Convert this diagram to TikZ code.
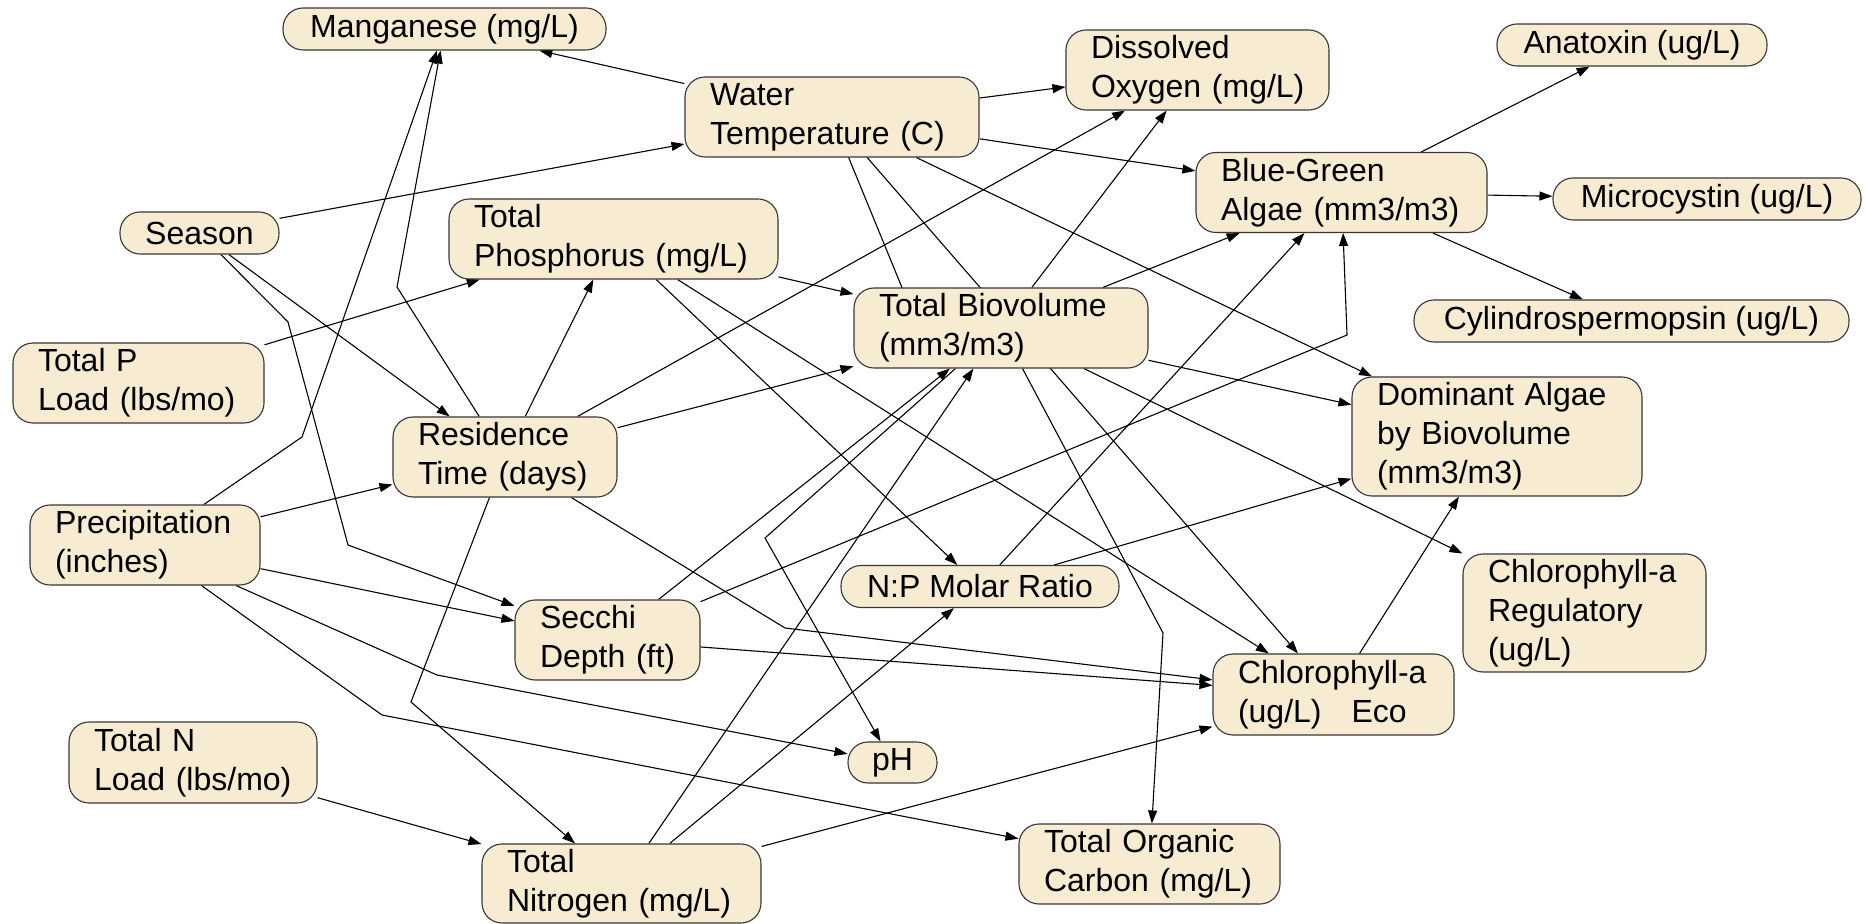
\documentclass[tikz,border=0pt]{standalone}
\usepackage{fontspec}
\setmainfont{Liberation Sans}
\usetikzlibrary{arrows.meta,backgrounds}
\definecolor{nodefill}{RGB}{247,236,210}
\definecolor{nodeline}{RGB}{55,55,55}
\begin{document}
\begin{tikzpicture}[x=0.5pt,y=-0.5pt,
  nd/.style={draw=nodeline, line width=0.55pt, fill=nodefill, rounded corners=10pt,
    font=\fontsize{16}{19.5}\selectfont, inner sep=0pt},
  ml/.style n args={3}{nd, text width=#1, minimum width=#2, minimum height=#3, align=left},
  sl/.style n args={2}{nd, minimum width=#1, minimum height=#2, align=center},
  link/.style={line width=0.55pt, -{Triangle[length=6.5pt,width=4.5pt]}},
  plainlink/.style={line width=0.55pt}
]
\useasboundingbox (0,0) rectangle (1866,924);
% nodes
\node[sl={161.5pt}{21pt}] (mn) at (444.5,29) {Manganese (mg/L)};
\node[ml={122pt}{147pt}{40pt}] (wt) at (832,117) {Water\\Temperature~(C)};
\node[ml={106.5pt}{131.5pt}{40pt}] (do) at (1197.5,70) {Dissolved\\Oxygen~(mg/L)};
\node[sl={135pt}{21pt}] (an) at (1632,45) {Anatoxin (ug/L)};
\node[ml={120.5pt}{145.5pt}{40pt}] (bg) at (1341.5,192.5) {Blue-Green\\Algae~(mm3/m3)};
\node[sl={154pt}{21pt}] (mc) at (1707,199) {Microcystin (ug/L)};
\node[sl={217.5pt}{21pt}] (cy) at (1631.5,321) {Cylindrospermopsin (ug/L)};
\node[sl={79.5pt}{21pt}] (se) at (199.5,233) {Season};
\node[ml={139.5pt}{164.5pt}{40pt}] (tp) at (613.5,239) {Total\\Phosphorus~(mg/L)};
\node[ml={122pt}{147pt}{40pt}] (tb) at (1001,328) {Total~Biovolume\\(mm3/m3)};
\node[ml={100.5pt}{125.5pt}{40pt}] (tpl) at (138.5,383) {Total~P\\Load~(lbs/mo)};
\node[ml={87pt}{112pt}{40pt}] (rt) at (505,457) {Residence\\Time~(days)};
\node[ml={120pt}{145pt}{59.5pt}] (da) at (1497,436.5) {Dominant~Algae\\by~Biovolume\\(mm3/m3)};
\node[ml={90pt}{115pt}{40pt}] (pr) at (145,545) {Precipitation\\(inches)};
\node[sl={139pt}{21pt}] (np) at (980,586.5) {N:P Molar Ratio};
\node[ml={67.5pt}{92.5pt}{40pt}] (sd) at (607.5,640) {Secchi\\Depth~(ft)};
\node[ml={96.5pt}{121.5pt}{59pt}] (cr) at (1584.5,613) {Chlorophyll-a\\Regulatory\\(ug/L)};
\node[ml={95.5pt}{120.5pt}{40.5pt}] (ce) at (1333.5,694.5) {Chlorophyll-a\\(ug/L)\hspace*{15pt}Eco};
\node[sl={44.5pt}{20.5pt}] (ph) at (892.5,762.5) {pH};
\node[ml={99pt}{124pt}{40.5pt}] (tnl) at (193,762.5) {Total~N\\Load~(lbs/mo)};
\node[ml={114.5pt}{139.5pt}{39.5pt}] (tn) at (621.5,883.5) {Total\\Nitrogen~(mg/L)};
\node[ml={105.5pt}{130.5pt}{40pt}] (toc) at (1149.5,864) {Total~Organic\\Carbon~(mg/L)};
% bend points
\coordinate (bSdBg) at (1347,335);
\coordinate (bRtCe) at (785,628);
\coordinate (bTbPh) at (765,538);
\coordinate (bPrPh) at (437,675);
\coordinate (bTbToc) at (1163,633);
\coordinate (bPrToc) at (382,715);
\coordinate (bRtTn) at (411,702);
\coordinate (bSeSd1) at (288,322);
\coordinate (bSeSd2) at (348,545);
\coordinate (bPrMn) at (302,437);
\coordinate (bRtMn) at (397,287);
\coordinate (wtTbEnd) at (935,368);
\begin{scope}[on background layer]
\fill[white] (0,0) rectangle (1866,924);
\draw[link] (wt) -- (mn);
\draw[link] (se) -- (wt);
\draw[link] (wt) -- (do);
\draw[link] (wt) -- (bg);
\draw[link] (wt) -- (ce);
\draw[link] (wt) -- (da);
\draw[plainlink] (wt) -- (wtTbEnd);
\draw[link] (rt) -- (do);
\draw[link] (tb) -- (do);
\draw[link] (tb) -- (bg);
\draw[link] (np) -- (bg);
\draw[link] (sd) -- (bSdBg) -- (bg);
\draw[link] (bg) -- (an);
\draw[link] (bg) -- (mc);
\draw[link] (bg) -- (cy);
\draw[link] (tb) -- (da);
\draw[link] (np) -- (da);
\draw[link] (ce) -- (da);
\draw[link] (tb) -- (cr);
\draw[link] (tp) -- (tb);
\draw[link] (rt) -- (tb);
\draw[link] (sd) -- (tb);
\draw[link] (tn) -- (tb);
\draw[link] (tp) -- (np);
\draw[link] (tn) -- (np);
\draw[link] (tp) -- (ce);
\draw[link] (rt) -- (bRtCe) -- (ce);
\draw[link] (sd) -- (ce);
\draw[link] (tn) -- (ce);
\draw[link] (tb) -- (bTbPh) -- (ph);
\draw[link] (pr) -- (bPrPh) -- (ph);
\draw[link] (tb) -- (bTbToc) -- (toc);
\draw[link] (pr) -- (bPrToc) -- (toc);
\draw[link] (tnl) -- (tn);
\draw[link] (rt) -- (bRtTn) -- (tn);
\draw[link] (se) -- (bSeSd1) -- (bSeSd2) -- (sd);
\draw[link] (pr) -- (sd);
\draw[link] (se) -- (rt);
\draw[link] (pr) -- (rt);
\draw[link] (tpl) -- (tp);
\draw[link] (rt) -- (tp);
\draw[link] (pr) -- (bPrMn) -- (mn);
\draw[link] (rt) -- (bRtMn) -- (mn);
\end{scope}
\end{tikzpicture}
\end{document}
